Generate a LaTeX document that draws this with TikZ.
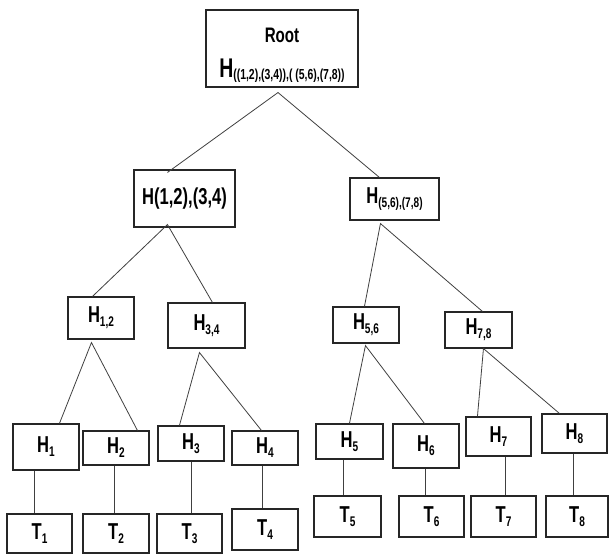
\documentclass[tikz,border=0pt]{standalone}
\usepackage{fontspec}
\setmainfont{Liberation Sans}[FakeStretch=0.72]
\usetikzlibrary{calc}
% lowered subscript in a smaller size
\newcommand\subtx[2][-4pt]{\raisebox{#1}{\fontsize{14}{14}\selectfont #2}}

\begin{document}
\begin{tikzpicture}[x=1pt,y=-1pt,
  box/.style={draw=black!85, line width=1.1pt, inner sep=0pt,
    font=\bfseries\fontsize{23}{26}\selectfont},
  link/.style={draw=black!75, line width=0.8pt}]
\useasboundingbox (0,0) rectangle (609,554);
\fill[white] (0,0) rectangle (609,554);

% root
\node[box, minimum width=152pt, minimum height=77pt, align=center,
  font=\bfseries\fontsize{20}{35}\selectfont] (root) at (282,48.5)
  {\rule{0pt}{28pt}{\fontsize{21}{21}\selectfont Root}\\
   {\fontsize{27}{27}\selectfont H\subtx[-1.5pt]{\fontsize{14.5}{14.5}\selectfont((1,2),(3,4)),( (5,6),(7,8))}}};

% second level
\node[box, minimum width=101pt, minimum height=57pt] (a) at (184.5,198.5) {H(1,2),(3,4)};
\node[box, minimum width=89pt, minimum height=42pt] (b) at (394.5,199) {H\subtx{(5,6),(7,8)}};

% third level
\node[box, minimum width=66pt, minimum height=42pt] (h12) at (101,318) {H\subtx{1,2}};
\node[box, minimum width=77pt, minimum height=45pt] (h34) at (206.5,325.5) {H\subtx{3,4}};
\node[box, minimum width=66pt, minimum height=36pt] (h56) at (366,325) {H\subtx{5,6}};
\node[box, minimum width=67pt, minimum height=36pt] (h78) at (478.5,330) {H\subtx{7,8}};

% leaf hashes
\node[box, minimum width=66pt, minimum height=46pt] (h1) at (46,447) {H\subtx{1}};
\node[box, minimum width=66pt, minimum height=34pt] (h2) at (116,448) {H\subtx{2}};
\node[box, minimum width=66pt, minimum height=35pt] (h3) at (191,443.5) {H\subtx{3}};
\node[box, minimum width=66pt, minimum height=34pt] (h4) at (265,448) {H\subtx{4}};
\node[box, minimum width=67pt, minimum height=35pt] (h5) at (349.5,441.5) {H\subtx{5}};
\node[box, minimum width=66pt, minimum height=44pt] (h6) at (426,446) {H\subtx{6}};
\node[box, minimum width=65pt, minimum height=39pt] (h7) at (498.5,436.5) {H\subtx{7}};
\node[box, minimum width=65pt, minimum height=39pt] (h8) at (574.5,433.5) {H\subtx{8}};

% transactions
\node[box, minimum width=65pt, minimum height=39pt] (t1) at (39.5,533.5) {T\subtx{1}};
\node[box, minimum width=66pt, minimum height=39pt] (t2) at (116,533.5) {T\subtx{2}};
\node[box, minimum width=65pt, minimum height=39pt] (t3) at (189.5,533.5) {T\subtx{3}};
\node[box, minimum width=66pt, minimum height=41pt] (t4) at (265,529.5) {T\subtx{4}};
\node[box, minimum width=67pt, minimum height=41pt] (t5) at (347.5,516.5) {T\subtx{5}};
\node[box, minimum width=65pt, minimum height=41pt] (t6) at (431.5,516.5) {T\subtx{6}};
\node[box, minimum width=65pt, minimum height=41pt] (t7) at (503.5,516.5) {T\subtx{7}};
\node[box, minimum width=62pt, minimum height=41pt] (t8) at (577,516.5) {T\subtx{8}};

% branching points under each parent
\coordinate (ra)   at ($(root.south)+(-4,5)$);
\coordinate (aa)   at ($(a.south west)+(34,-3)$);
\coordinate (ba)   at ($(b.south west)+(31,3)$);
\coordinate (h12a) at ($(h12.south west)+(24,3)$);
\coordinate (h34a) at ($(h34.south west)+(32,4)$);
\coordinate (h56a) at ($(h56.south west)+(33,2)$);
\coordinate (h78a) at ($(h78.south west)+(39,0)$);

% parent-child links
\draw[link] ($(a.north west)+(34,3)$) -- (ra) -- ($(b.north west)+(30,0)$);
\draw[link] ($(h12.north west)+(25,0)$) -- (aa) -- ($(h34.north west)+(45,0)$);
\draw[link] ($(h56.north west)+(32,0)$) -- (ba) -- ($(h78.north west)+(38,0)$);
\draw[link] ($(h1.north west)+(47,0)$) -- (h12a) -- ($(h2.north west)+(55,0)$);
\draw[link] ($(h3.north west)+(22,0)$) -- (h34a) -- ($(h4.north west)+(30,0)$);
\draw[link] ($(h5.north west)+(34,0)$) -- (h56a) -- ($(h6.north west)+(32,0)$);
\draw[link] ($(h7.north west)+(12,0)$) -- (h78a) -- ($(h8.north west)+(18,0)$);

% hash-to-transaction links
\foreach \n/\dx in {1/22, 2/32, 3/34, 4/31, 5/28, 6/33, 7/40, 8/32} {
  \coordinate (v\n) at ($(h\n.south west)+(\dx,0)$);
  \draw[link] (v\n) -- (v\n |- t\n.north);
}
\end{tikzpicture}
\end{document}
